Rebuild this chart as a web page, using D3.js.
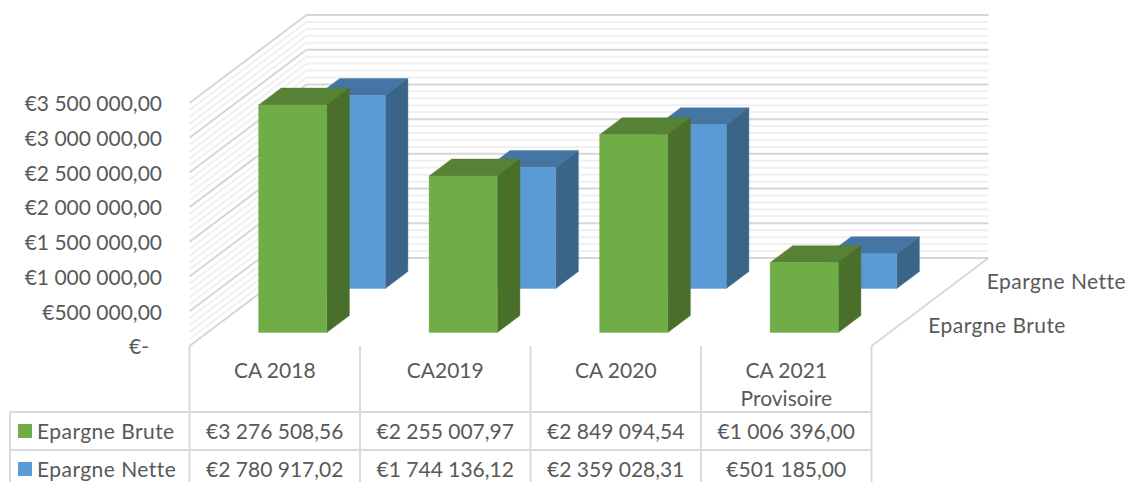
<!DOCTYPE html>
<html><head><meta charset="utf-8">
<script src="https://cdn.jsdelivr.net/npm/d3@7"></script>
<style>html,body{margin:0;padding:0;background:#fff}svg{display:block}text{font-family:Lato,"Open Sans",sans-serif;fill:#595959}.nm{letter-spacing:.45px}</style>
</head><body><div id="c"></div>
<script>
const categories = ["CA 2018", "CA2019", "CA 2020", "CA 2021 Provisoire"];
const seriesNames = ["Epargne Brute", "Epargne Nette"];
const epargneBrute = [3276508.56, 2255007.97, 2849094.54, 1006396.00];
const epargneNette = [2780917.02, 1744136.12, 2359028.31, 501185.00];
const yTicks = [0, 500000, 1000000, 1500000, 2000000, 2500000, 3000000, 3500000];
const minorStep = 100000;

const W = 1133, H = 482, FS = 21;
const colors = {
  "Epargne Brute": {front:"#70AD47", side:"#4A6F2B", top:"#568235"},
  "Epargne Nette": {front:"#5B9BD5", side:"#3A6488", top:"#4575A2"}
};
const svg = d3.select("#c").append("svg").attr("width", W).attr("height", H);

const floorY = 346, DX = 117, DY = -88;
const x = d3.scaleBand().domain(categories).range([189.5, 871.5]);
const z = d3.scaleBand().domain(seriesNames).range([0, 1]);
const y = d3.scaleLinear().domain([0, 3500000]).range([floorY, floorY - 243]);
const barW = x.bandwidth() * 0.4, barD = z.bandwidth() * 0.386;
const P = (px, v, d) => [px + d * DX, y(v) + d * DY];
const line = d3.line();

// walls and gridlines
const gridVals = d3.range(0, 3500000 + 1, minorStep);
const isMajor = v => yTicks.includes(v);
const grid = svg.append("g").attr("fill", "none");
[...gridVals.filter(v => !isMajor(v)), ...gridVals.filter(isMajor)].forEach(v => {
  grid.append("path")
    .attr("d", line([P(x.range()[0], v, 0), P(x.range()[0], v, 1), P(x.range()[1], v, 1)]))
    .attr("stroke", isMajor(v) ? "#d6d6d6" : "#f0f0f0")
    .attr("stroke-width", 2);
});
grid.append("path")
  .attr("d", line([P(x.range()[1], 0, 0), P(x.range()[1], 0, 1)]))
  .attr("stroke", "#d9d9d9").attr("stroke-width", 2);

// bars, back series first
const seriesValues = {"Epargne Brute": epargneBrute, "Epargne Nette": epargneNette};
[...seriesNames].reverse().forEach(name => {
  const c = colors[name];
  const g = svg.append("g");
  categories.forEach((cat, i) => {
    const v = seriesValues[name][i];
    const x0 = x(cat) + (x.bandwidth() - barW) / 2, x1 = x0 + barW;
    const d0 = z(name) + (z.bandwidth() - barD) / 2, d1 = d0 + barD;
    const faces = [
      [c.top,  [P(x0,v,d0), P(x1,v,d0), P(x1,v,d1), P(x0,v,d1)]],
      [c.side, [P(x1,0,d0), P(x1,v,d0), P(x1,v,d1), P(x1,0,d1)]],
      [c.front,[P(x0,0,d0), P(x1,0,d0), P(x1,v,d0), P(x0,v,d0)]]
    ];
    faces.forEach(([col, pts]) => g.append("path")
      .attr("d", line(pts) + "Z").attr("fill", col).attr("stroke", col).attr("stroke-width", 0.4));
  });
});

// value axis
const euroLocale = d3.formatLocale({decimal:",", thousands:" ", grouping:[3], currency:["€",""]});
const euro = euroLocale.format("$,.2f");
const axis = d3.axisLeft(y).tickValues(yTicks).tickSize(0).tickPadding(0)
  .tickFormat(v => v === 0 ? "€-" : euro(v));
const ax = svg.append("g").attr("transform", "translate(162,1)").call(axis);
ax.select(".domain").remove();
ax.selectAll("text").attr("font-size", FS).attr("dy", "0.32em");
ax.attr("font-family", null);
ax.selectAll(".tick text").filter(v => v === 0).attr("dx", -13);

// depth axis labels
seriesNames.forEach(name => {
  const d = z(name) + z.bandwidth() / 2;
  const [px, py] = P(x.range()[1], 0, d);
  svg.append("text").attr("class", "nm").attr("x", px + 27.5).attr("y", py + 2).attr("dy", "0.32em")
    .attr("font-size", FS).text(name);
});

// data table
const rowLines = [412, 450];
const tableBottom = 484, tableLeft = 10;
const tbl = svg.append("g").attr("stroke", "#d9d9d9").attr("stroke-width", 2);
[...categories.map(c => x(c)), x.range()[1]].forEach(px =>
  tbl.append("line").attr("x1", px).attr("x2", px).attr("y1", floorY).attr("y2", tableBottom));
tbl.append("line").attr("x1", tableLeft).attr("x2", tableLeft).attr("y1", rowLines[0]).attr("y2", tableBottom);
rowLines.forEach(ry =>
  tbl.append("line").attr("x1", tableLeft).attr("x2", x.range()[1]).attr("y1", ry).attr("y2", ry));

// category labels
categories.forEach(cat => {
  const cx = x(cat) + x.bandwidth() / 2;
  const m = cat.match(/^(CA 2021) (Provisoire)$/);
  const lines = m ? [m[1], m[2]] : [cat];
  lines.forEach((t, i) => svg.append("text").attr("x", cx).attr("y", 371 + i * 28)
    .attr("dy", "0.32em").attr("text-anchor", "middle").attr("font-size", FS).text(t));
});

// table rows
const rowCenters = [432, 470];
seriesNames.forEach((name, r) => {
  const cy = rowCenters[r];
  svg.append("rect").attr("x", 18).attr("y", cy - 8).attr("width", 14).attr("height", 14)
    .attr("fill", colors[name].front);
  svg.append("text").attr("class", "nm").attr("x", 37).attr("y", cy).attr("dy", "0.32em").attr("font-size", FS).text(name);
  categories.forEach((cat, i) => svg.append("text")
    .attr("x", x(cat) + x.bandwidth() / 2).attr("y", cy).attr("dy", "0.32em")
    .attr("text-anchor", "middle").attr("font-size", FS).text(euro(seriesValues[name][i])));
});
</script></body></html>
